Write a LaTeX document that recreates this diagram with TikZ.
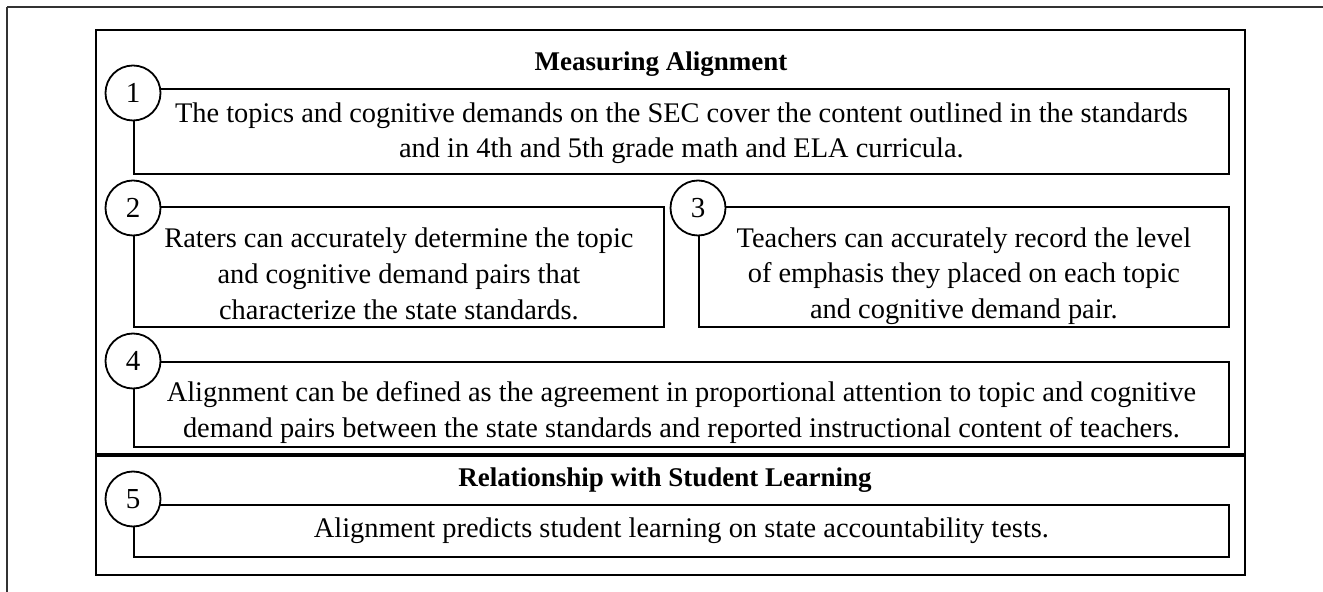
\documentclass[tikz,border=0pt]{standalone}
\usepackage{fontspec}
\setmainfont{Liberation Serif}
\usepackage{tikz}
\usetikzlibrary{positioning}
\tikzstyle{claimbox}=[rectangle,draw=black,line width=0.9pt,fill=white,
inner sep=0pt,anchor=north west]
\tikzstyle{claimtext}=[align=center,inner sep=0pt,
font=\fontsize{14.2}{17.8}\selectfont]
\tikzstyle{numcircle}=[circle,draw=black,line width=0.9pt,fill=white,
minimum size=27.5pt,inner sep=0pt,font=\fontsize{14.5}{18}\selectfont]
\tikzstyle{headtext}=[font=\fontsize{13.5}{18.5}\selectfont\bfseries]
\tikzstyle{mainframe}=[draw=black,line width=1.4pt]
\tikzstyle{pageframe}=[draw=black!80,line width=0.6pt]

\begin{document}
\begin{tikzpicture}[x=0.5pt,y=-0.5pt]
    \useasboundingbox (0,0) rectangle (1323,592);
    \draw[pageframe] (7,7) -- (7,592);
    \draw[pageframe] (7,7) -- (1323,7);
    \draw[mainframe] (96,30) rectangle (1245,575);
    \draw[black,line width=2pt] (96,455) -- (1245,455);
    
    \node[headtext] (h1) at (661,64) {Measuring Alignment};
    \node[headtext] (h2) at (665,480) {Relationship with Student Learning};
    
    \node[claimbox, minimum width=547.5pt, minimum height=42.5pt] (c1) at (133,88) {};
    \node[claimbox, minimum width=265pt, minimum height=60pt] (c2) at (133,206) {};
    \node[claimbox, minimum width=265pt, minimum height=60pt] (c3) at (698,206) {};
    \node[claimbox, minimum width=547.5pt, minimum height=42.5pt] (c4) at (133,361) {};
    \node[claimbox, minimum width=547.5pt, minimum height=26pt] (c5) at (133,504) {};
    
    \node[claimtext] (t1) at ([yshift=-1pt]c1.center)
    {The topics and cognitive demands on the SEC cover the content outlined in the standards\\
     and in 4th and 5th grade math and ELA curricula.};
    \node[claimtext] (t2) at ([yshift=-3.5pt]c2.center)
    {Raters can accurately determine the topic\\
     and cognitive demand pairs that\\
     characterize the state standards.};
    \node[claimtext] (t3) at ([yshift=-4.5pt]c3.center)
    {Teachers can accurately record the level\\
     of emphasis they placed on each topic\\
     and cognitive demand pair.};
    \node[claimtext] (t4) at ([yshift=-4pt]c4.center)
    {Alignment can be defined as the agreement in proportional attention to topic and cognitive\\
     demand pairs between the state standards and reported instructional content of teachers.};
    \node[claimtext] (t5) at (c5.center)
    {Alignment predicts student learning on state accountability tests.};
    
    \node[numcircle] (n1) at ([yshift=-2.5pt]c1.north west) {1};
    \node[numcircle] (n2) at ([yshift=-1pt]c2.north west) {2};
    \node[numcircle] (n3) at ([yshift=-1pt]c3.north west) {3};
    \node[numcircle] (n4) at (c4.north west) {4};
    \node[numcircle] (n5) at ([yshift=2.5pt]c5.north west) {5};
\end{tikzpicture}
\end{document}
